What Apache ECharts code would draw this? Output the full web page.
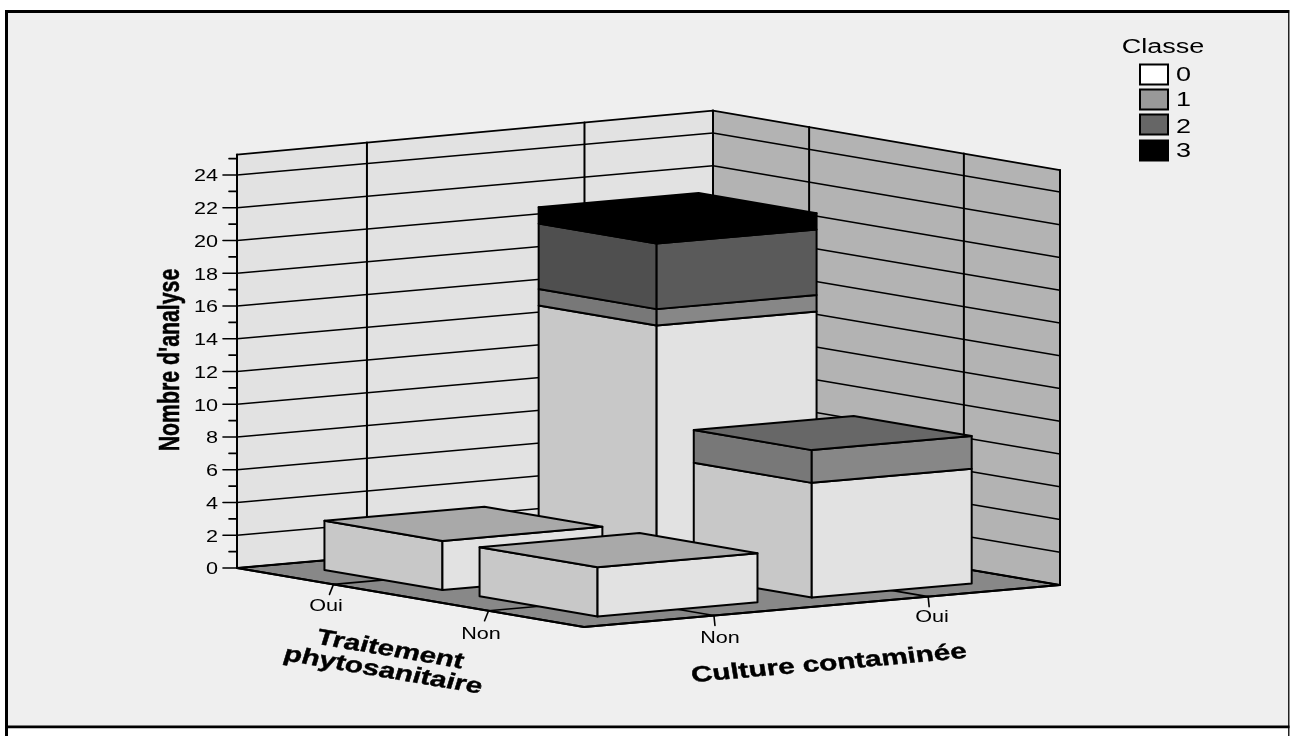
<!DOCTYPE html>
<html>
<head>
<meta charset="utf-8">
<style>html,body{margin:0;padding:0;background:#fff}#c{width:1290px;height:736px}</style>
<script src="https://cdn.jsdelivr.net/npm/echarts@6/dist/echarts.min.js"></script>
</head>
<body>
<div id="c"></div>
<script>
// ---- data ----
var treatmentCategories = ['Oui', 'Non'];
var cultureCategories = ['Non', 'Oui'];
var classNames = ['0', '1', '2', '3'];
var valueTicks = [0, 2, 4, 6, 8, 10, 12, 14, 16, 18, 20, 22, 24];
var minorTicks = [1, 3, 5, 7, 9, 11, 13, 15, 17, 19, 21, 23, 25];
// one entry per bar, back to front
var barTreatment = [0, 0, 1, 1];
var barCulture = [1, 0, 1, 0];
var class0 = [15, 3, 7, 3];
var class1 = [1, 0, 2, 0];
var class2 = [4, 0, 0, 0];
var class3 = [1, 0, 0, 0];
var classSeries = [class0, class1, class2, class3];
var yAxisTitle = "Nombre d'analyse";
var treatmentTitle = ['Traitement', 'phytosanitaire'];
var cultureTitle = 'Culture contaminée';

// ---- styles and oblique projection layout ----
var legendColors = ['#ffffff', '#999999', '#666666', '#000000'];
var leftFaceColors = ['#c8c8c8', '#787878', '#4f4f4f', '#000000'];
var rightFaceColors = ['#e2e2e2', '#878787', '#5a5a5a', '#000000'];
var topFaceColors = ['#a9a9a9', '#676767', '#000000', '#000000'];
var treatmentCenters = [0.278, 0.725];
var cultureCenters = [0.273, 0.723];
var wallCulture = [0.273, 0.73];
var wallTreatment = [0.277, 0.723];
var barHalfT = 0.17, barHalfC = 0.168;
var originX = 237, originY = 568;
var tDir = [347, 59], cDir = [476, -42];
var axisTop = 25.25, backTop = 25.37, rightTop = 25.34;
var textStretch = 1.35;
var FONT = '"Liberation Sans", Arial, sans-serif';

function project(api, t, c, h) {
  var dy = api.coord([0, h])[1] - api.coord([0, 0])[1];
  return [originX + t * tDir[0] + c * cDir[0], originY + t * tDir[1] + c * cDir[1] + dy];
}
function line(a, b, w) {
  return {type: 'line', shape: {x1: a[0], y1: a[1], x2: b[0], y2: b[1]}, style: {stroke: '#000', lineWidth: w || 1.7, lineCap: 'round'}};
}
function poly(pts, fill, w) {
  return {type: 'polygon', shape: {points: pts}, style: {fill: fill, stroke: '#000', lineWidth: w || 2, lineJoin: 'round'}};
}
function rect(x, y, w, h, fill) {
  return {type: 'rect', shape: {x: x, y: y, width: w, height: h}, style: {fill: fill}};
}
// text drawn in the chart's horizontally stretched space
function label(txt, x, y, size, opts) {
  opts = opts || {};
  var style = {
    text: txt, x: 0, y: 0, fill: '#000',
    font: (opts.bold ? 'bold ' : '') + size + 'px ' + FONT,
    align: opts.align || 'center', verticalAlign: 'middle'
  };
  if (opts.bold) { style.stroke = '#000'; style.lineWidth = 0.4; }
  return {
    type: 'group', x: x, y: y, scaleX: textStretch,
    children: [{type: 'text', rotation: (opts.rot || 0) * Math.PI / 180, style: style}]
  };
}

function renderFrame() {
  return {type: 'group', children: [
    rect(8, 13, 1280, 713, '#efefef'),
    rect(5, 10, 1284.5, 3, '#000'),
    rect(5, 10, 3, 726, '#000'),
    rect(1288, 13, 1.5, 723, '#222'),
    rect(5, 725.6, 1284.5, 2.6, '#000')
  ]};
}

function renderWalls(params, api) {
  var ch = [];
  var L0 = project(api, 0, 0, 0), B0 = project(api, 0, 1, 0), R0 = project(api, 1, 1, 0), F0 = project(api, 1, 0, 0);
  var L1 = project(api, 0, 0, axisTop), B1 = project(api, 0, 1, backTop), R1 = project(api, 1, 1, rightTop);
  // floor
  ch.push(poly([L0, B0, R0, F0], '#888888', 1.8));
  treatmentCenters.forEach(function (t) { ch.push(line(project(api, t, 0, 0), project(api, t, 1, 0))); });
  cultureCenters.forEach(function (c) { ch.push(line(project(api, 0, c, 0), project(api, 1, c, 0))); });
  // walls
  ch.push(poly([L0, B0, B1, L1], '#e2e2e2', 1.8));
  ch.push(poly([B0, R0, R1, B1], '#b3b3b3', 1.8));
  valueTicks.forEach(function (v) {
    if (v === 0) return;
    ch.push(line(project(api, 0, 0, v), project(api, 0, 1, v)));
    ch.push(line(project(api, 0, 1, v), project(api, 1, 1, v)));
  });
  wallCulture.forEach(function (c) { ch.push(line(project(api, 0, c, 0), project(api, 0, c, axisTop + (backTop - axisTop) * c), 2)); });
  wallTreatment.forEach(function (t) { ch.push(line(project(api, t, 1, 0), project(api, t, 1, backTop + (rightTop - backTop) * t), 2)); });
  ch.push(line(B0, B1, 2), line(L0, L1, 2), line(R0, R1, 2));
  // re-stroke the floor rim over the wall bottoms
  ch.push(line(L0, F0, 2), line(F0, R0, 2), line(L0, B0, 1.5), line(B0, R0, 1.5));
  return {type: 'group', children: ch};
}

function renderBar(params, api) {
  var i = params.dataIndex;
  var tc = treatmentCenters[barTreatment[i]], cc = cultureCenters[barCulture[i]];
  var t0 = tc - barHalfT, t1 = tc + barHalfT, c0 = cc - barHalfC, c1 = cc + barHalfC;
  var ch = [], base = 0, topIdx = 0;
  classSeries.forEach(function (arr, k) {
    var v = arr[i];
    if (!v) return;
    var top = base + v;
    ch.push(poly([project(api, t0, c0, base), project(api, t1, c0, base), project(api, t1, c0, top), project(api, t0, c0, top)], leftFaceColors[k]));
    ch.push(poly([project(api, t1, c0, base), project(api, t1, c1, base), project(api, t1, c1, top), project(api, t1, c0, top)], rightFaceColors[k]));
    base = top; topIdx = k;
  });
  ch.push(poly([project(api, t0, c0, base), project(api, t1, c0, base), project(api, t1, c1, base), project(api, t0, c1, base)], topFaceColors[topIdx]));
  return {type: 'group', children: ch};
}

function renderAnnotations(params, api) {
  var ch = [];
  // value axis
  valueTicks.forEach(function (v) {
    var y = api.coord([0, v])[1];
    ch.push(line([originX - 14, y], [originX, y], 1.6));
    ch.push(label(String(v), 218, y + 2, 16, {align: 'right'}));
  });
  minorTicks.forEach(function (v) {
    var y = api.coord([0, v])[1];
    ch.push(line([originX - 8, y], [originX, y], 1.6));
  });
  // category axes
  var tLabelPos = [[326, 607], [481, 635]];
  treatmentCategories.forEach(function (name, k) {
    var p = project(api, treatmentCenters[k], 0, 0);
    ch.push(line(p, [p[0] - 4, p[1] + 10], 1.6));
    ch.push(label(name, tLabelPos[k][0], tLabelPos[k][1], 16));
  });
  var cLabelPos = [[720, 639], [932, 618]];
  cultureCategories.forEach(function (name, k) {
    var p = project(api, 1, cultureCenters[k], 0);
    ch.push(line(p, [p[0] + 1, p[1] + 10], 1.6));
    ch.push(label(name, cLabelPos[k][0], cLabelPos[k][1], 16));
  });
  // axis titles
  ch.push(label(yAxisTitle, 171, 360, 21.3, {bold: true, rot: 90}));
  ch.push(label(treatmentTitle[0], 390, 650, 22, {bold: true, rot: -12.9}));
  ch.push(label(treatmentTitle[1], 383, 671, 22, {bold: true, rot: -12.9}));
  ch.push(label(cultureTitle, 829, 664, 22, {bold: true, rot: 6.8}));
  // legend
  ch.push(label('Classe', 1163, 47, 20));
  var swatchY = [64, 89, 114, 140], textY = [75, 100, 127, 151];
  classNames.forEach(function (name, k) {
    ch.push({type: 'rect', shape: {x: 1140, y: swatchY[k] + 0.5, width: 28, height: 20},
      style: {fill: legendColors[k], stroke: '#000', lineWidth: 2}});
    ch.push(label(name, 1176, textY[k], 20, {align: 'left'}));
  });
  return {type: 'group', children: ch};
}

var chart = echarts.init(document.getElementById('c'), null, {renderer: 'canvas'});
var staticBase = {type: 'custom', coordinateSystem: 'cartesian2d', clip: false, silent: true, animation: false, data: [[0, 0]]};
chart.setOption({
  animation: false,
  backgroundColor: '#ffffff',
  tooltip: {show: false},
  grid: {left: originX, right: 1290 - 1060, top: 568 - 16.375 * 25, bottom: 736 - originY},
  xAxis: {type: 'value', min: 0, max: 1, show: false},
  yAxis: {type: 'value', min: 0, max: 25, show: false},
  series: [
    Object.assign({}, staticBase, {name: 'frame', z: 1, renderItem: renderFrame}),
    Object.assign({}, staticBase, {name: 'walls', z: 2, renderItem: renderWalls}),
    Object.assign({}, staticBase, {name: 'bars', z: 3, renderItem: renderBar,
      data: barTreatment.map(function (t, i) { return [barCulture[i], class0[i] + class1[i] + class2[i] + class3[i]]; })}),
    Object.assign({}, staticBase, {name: 'labels', z: 4, renderItem: renderAnnotations})
  ]
});
</script>
</body>
</html>
